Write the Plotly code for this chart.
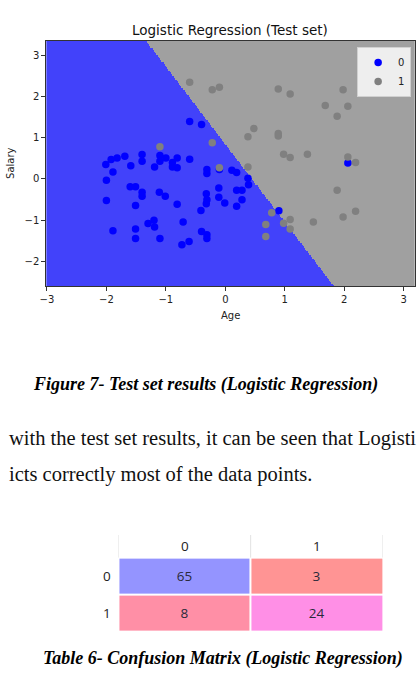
import numpy as np
import plotly.graph_objects as go

# ---------------- data ----------------
age_0 = [-2.01, -1.92, -1.82, -1.69, -1.89, -2.00, -2.00, -1.89, -1.59, -1.60, -1.51, -1.40, -1.40,
         -1.40, -1.40, -1.51, -1.51, -1.51, -1.30, -1.20, -1.19, -1.10, -1.10, -1.19, -1.11, -1.01,
         -1.00, -0.89, -0.89, -0.81, -0.81, -0.81, -0.60, -1.10, -0.71, -0.73, -0.61, -0.41, -0.40,
         -0.40, -0.60, -0.31, -0.10, 0.11, 0.19, 0.38, 0.39, -0.32, -0.11, -0.11, -0.01, 0.19, 0.28,
         0.28, 0.19, -0.32, -0.31, 0.90, 2.06, -0.31, -0.31, -0.31]
salary_0 = [0.35, 0.47, 0.51, 0.55, 0.17, -0.03, -0.52, -1.25, 0.32, -0.19, -0.19, 0.59, 0.43,
            -0.32, -0.42, -0.64, -1.21, -1.44, -1.08, -1.00, -1.16, 0.57, 0.43, 0.29, -0.32, -0.42,
            0.51, 0.40, 0.29, 0.51, 0.27, -0.61, 0.48, -1.44, -1.04, -1.59, -1.51, -0.76, -1.27,
            1.32, 1.39, 0.23, 0.23, 0.21, 0.16, 0.02, -0.14, -0.36, -0.22, -0.44, -0.58, -0.27, -0.27,
            -0.50, -0.66, -0.60, -1.44, -0.77, 0.39, 0.13, -0.50, -1.35]

age_1 = [-0.60, -0.22, -0.10, 0.89, 1.09, 1.98, 1.68, 2.06, 1.88, 0.38, 0.48, 0.89, 0.89, 0.98,
         1.09, 1.38, -1.10, -0.22, 2.06, 2.19, 1.88, 1.98, 2.19, 1.48, 1.09, 1.09, 0.98, 0.78,
         0.68, 0.68, 0.38, -0.10]
salary_1 = [2.34, 2.16, 2.22, 2.18, 2.06, 2.16, 1.78, 1.76, 1.52, 1.02, 1.22, 1.10, 1.04, 0.60,
            0.52, 0.60, 0.78, 0.88, 0.53, 0.40, -0.27, -0.92, -0.78, -1.04, -0.98, -1.21, -1.07, -0.82,
            -1.10, -1.39, 0.29, 0.27]

# logistic regression parameters (age coef, salary coef, intercept)
coef_age = 2.0
coef_salary = 1.06
intercept = -0.88

class_labels = ["0", "1"]
conf_matrix = [[65, 3], [8, 24]]

# ---------------- geometry helpers ----------------
W, H = 418, 683


def px(x):
    return x / W


def py(y):
    return 1 - y / H


all_age = age_0 + age_1
all_sal = salary_0 + salary_1
x_lo, x_hi = min(all_age) - 1, max(all_age) + 1
y_lo, y_hi = min(all_sal) - 1, max(all_sal) + 1
step = 0.02
gx = np.arange(x_lo, x_hi, step)
gy = np.arange(y_lo, y_hi, step)
GX, GY = np.meshgrid(gx, gy)
Z = (coef_age * GX + coef_salary * GY + intercept > 0).astype(int)

fig = go.Figure()

fig.add_trace(go.Heatmap(
    x=gx, y=gy, z=Z, zmin=0, zmax=1, zsmooth=False, showscale=False, hoverinfo="skip",
    colorscale=[[0, "rgb(66,66,250)"], [0.5, "rgb(66,66,250)"], [0.5, "rgb(160,160,160)"], [1, "rgb(160,160,160)"]],
    xaxis="x", yaxis="y", showlegend=False,
))

fig.add_trace(go.Scatter(
    x=age_0, y=salary_0, mode="markers", name=class_labels[0],
    marker=dict(color="rgb(0,0,255)", size=7.5), xaxis="x", yaxis="y",
))
fig.add_trace(go.Scatter(
    x=age_1, y=salary_1, mode="markers", name=class_labels[1],
    marker=dict(color="rgb(128,128,128)", size=7.5), xaxis="x", yaxis="y",
))

# confusion matrix heatmap
vals = sorted(v for row in conf_matrix for v in row)
vmin, vmax = vals[0], vals[-1]
cell_colors = ["#ff9494", "#ff8fa6", "#ff8fe6", "#9494ff"]
cscale = [[(v - vmin) / (vmax - vmin), c] for v, c in zip(vals, cell_colors)]
fig.add_trace(go.Heatmap(
    z=conf_matrix, x=[0, 1], y=[0, 1], colorscale=cscale, zmin=vmin, zmax=vmax,
    showscale=False, xgap=2, ygap=2, hoverinfo="skip", xaxis="x2", yaxis="y2",
    text=[[str(v) for v in row] for row in conf_matrix], texttemplate="%{text}",
    textfont=dict(family="Open Sans", size=13.5, color="#2a2a3a"), showlegend=False,
))

tick_font = dict(family="DejaVu Sans", size=10, color="#222")

fig.update_layout(
    width=W, height=H, autosize=False,
    margin=dict(l=0, r=0, t=0, b=0),
    paper_bgcolor="white", plot_bgcolor="white",
    showlegend=True,
    legend=dict(
        x=px(411), y=py(47), xanchor="right", yanchor="top",
        bgcolor="rgba(255,255,255,0.82)", bordercolor="#d0d0d0", borderwidth=1,
        font=dict(family="DejaVu Sans", size=10, color="#222"),
        tracegroupgap=0, itemwidth=30,
    ),
    xaxis=dict(
        domain=[px(40), px(415)], range=[x_lo, x_hi], tickmode="array",
        tickvals=list(range(-3, 4)), showgrid=False, zeroline=False,
        showline=True, linecolor="#333", linewidth=1, mirror=True,
        ticks="outside", ticklen=4, tickcolor="#333", tickfont=tick_font,
    ),
    yaxis=dict(
        domain=[py(286), py(41)], range=[y_lo, y_hi], tickmode="array",
        tickvals=list(range(-2, 4)), showgrid=False, zeroline=False,
        showline=True, linecolor="#333", linewidth=1, mirror=True,
        ticks="outside", ticklen=4, tickcolor="#333", tickfont=tick_font,
    ),
    xaxis2=dict(domain=[px(113.3), px(382.3)], range=[-0.5, 1.5], visible=False, anchor="y2"),
    yaxis2=dict(domain=[py(631.7), py(535)], range=[1.5, -1.11], visible=False, anchor="x2"),
)


def note(text, x, y, size, family, xanchor="center", angle=0, color="#111"):
    return dict(text=text, x=x, y=y, xref="paper", yref="paper", xanchor=xanchor, yanchor="middle",
                showarrow=False, textangle=angle, font=dict(family=family, size=size, color=color))


ann = [
    note("Logistic Regression (Test set)", px(227), py(30), 13.5, "DejaVu Sans"),
    note("Age", px(227), py(315), 10, "DejaVu Sans", color="#222"),
    note("Salary", px(4), py(163), 10, "DejaVu Sans", angle=-90, color="#222"),
    note("<b><i>Figure 7- Test set results (Logistic Regression)</i></b>", px(202), py(384), 18,
         "Liberation Serif", color="#000"),
    note("with the test set results, it can be seen that Logisti", 0, py(438), 20.5,
         "Liberation Serif", xanchor="left"),
    note("icts correctly most of the data points.", 0, py(474), 20.5, "Liberation Serif", xanchor="left"),
    note("<b><i>Table 6- Confusion Matrix (Logistic Regression)</i></b>", px(220), py(658), 18,
         "Liberation Serif", color="#000"),
]

tbl_font = dict(family="Open Sans", size=13.5, color="#222")
for i, lab in enumerate(class_labels):
    ann.append(dict(text=lab, x=i, y=-0.805, xref="x2", yref="y2", yanchor="middle", showarrow=False,
                    font=tbl_font))
    ann.append(dict(text=lab, x=-0.5, y=i, xref="x2", yref="y2", xanchor="right", yanchor="middle",
                    xshift=-5, showarrow=False, font=tbl_font))
fig.update_layout(annotations=ann)

shapes = []
for xv in [-0.5, 0.5, 1.5]:
    shapes.append(dict(type="line", xref="x2", yref="y2", x0=xv, x1=xv, y0=-1.11, y1=-0.5,
                       line=dict(color="#e2e2e2", width=1)))
fig.update_layout(shapes=shapes)

fig.write_html("out.html")
